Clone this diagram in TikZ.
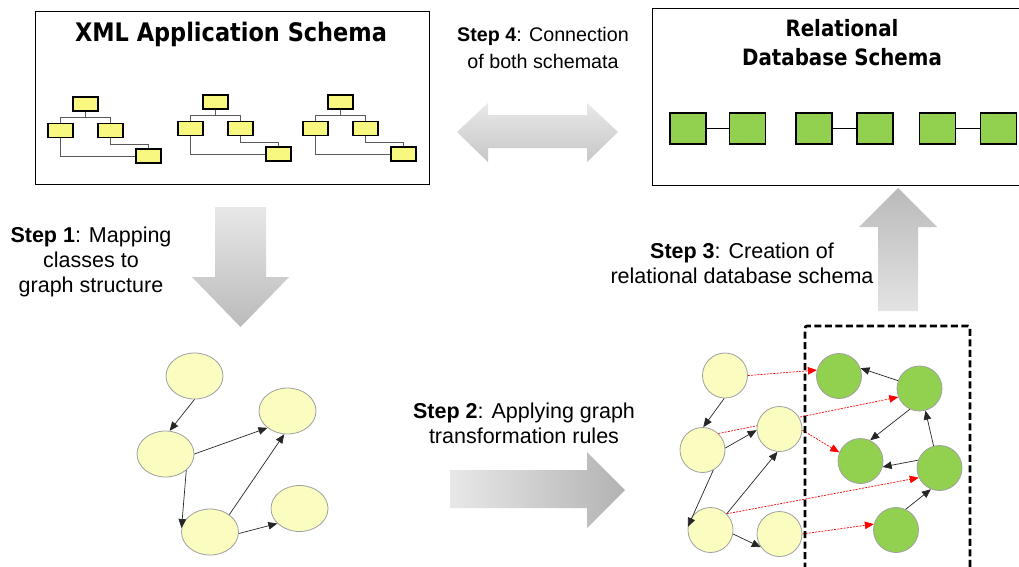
\documentclass[tikz,border=0pt]{standalone}
\usepackage{fontspec}
\setmainfont{Liberation Sans}
\newfontfamily\titlefont[FakeStretch=0.88]{DejaVu Sans}
\usetikzlibrary{shapes.geometric,arrows.meta}
\pgfdeclarelayer{bg}
\pgfdeclarelayer{back}
\pgfsetlayers{back,bg,main}
\definecolor{xmlyellow}{RGB}{248,248,128}
\definecolor{paleyellow}{RGB}{250,252,192}
\definecolor{rgreen}{RGB}{146,208,80}
\definecolor{nodeborder}{RGB}{160,160,160}
\definecolor{treeline}{RGB}{90,90,90}
\tikzset{
  ybox/.style={draw=black, line width=1.3pt, fill=xmlyellow, minimum width=25pt, minimum height=14pt, inner sep=0pt},
  gbox/.style={draw=black, line width=1.3pt, fill=rgreen, minimum width=36pt, minimum height=31pt, inner sep=0pt},
  tline/.style={draw=treeline, line width=0.8pt},
  frame/.style={draw=black, line width=0.9pt, fill=white, inner sep=0pt},
  yell/.style={ellipse, draw=nodeborder, line width=0.8pt, fill=paleyellow, minimum width=57pt, minimum height=46pt, inner sep=0pt},
  ycirc/.style={circle, draw=nodeborder, line width=0.8pt, fill=paleyellow, minimum size=45pt, inner sep=0pt},
  gcirc/.style={circle, draw=nodeborder, line width=0.8pt, fill=rgreen, minimum size=45pt, inner sep=0pt},
  garrow/.style={-{Triangle[length=9pt,width=7.5pt]}, line width=0.7pt, draw=black!85},
  redarrow/.style={-{Triangle[length=9pt,width=7.5pt]}, draw=red, line width=0.7pt, dash pattern=on 2pt off 1.2pt},
  steptext/.style={align=center, inner sep=0pt, font=\fontsize{21.5}{25}\selectfont},
  titletext/.style={align=center, inner sep=0pt},
  pics/xtree/.style={code={
    \node[ybox] (-t) at (0,0) {};
    \node[ybox] (-l) at (-25,26.5) {};
    \node[ybox] (-r) at (25,26.5) {};
    \node[ybox] (-b) at (63,52) {};
    \begin{pgfonlayer}{bg}
    \draw[tline] (-t.south) -- ++(0,6) coordinate (-j);
    \draw[tline] (-l.north) |- (-j) -| (-r.north);
    \draw[tline] (-l.south) |- (-b.west);
    \draw[tline] (-r.south) -- ++(0,6) -| (-b.north);
    \end{pgfonlayer}
  }}
}
\begin{document}
\begin{tikzpicture}[x=1pt,y=-1pt]
\useasboundingbox (0,0) rectangle (1019,566);
\begin{pgfonlayer}{back}
\fill[white] (0,0) rectangle (1019,566);
% frames
\node[frame, minimum width=394pt, minimum height=173pt] (xmlbox) at (232,97.5) {};
\node[frame, minimum width=380pt, minimum height=177pt] (rdbbox) at (842,96.5) {};
\end{pgfonlayer}

% titles
\node[titletext, font=\titlefont\bfseries\fontsize{25.5}{30}\selectfont] (xmltitle) at (231,34) {XML Application Schema};
\node[titletext, font=\titlefont\bfseries\fontsize{22.5}{29}\selectfont] (rdbtitle) at (842,43) {Relational\\Database Schema};

% XML trees
\pic (t1) at (85.5,104) {xtree};
\pic (t2) at (215.5,102) {xtree};
\pic (t3) at (340.5,102) {xtree};

% relational tables
\node[gbox] (g1a) at (688,128.5) {};
\node[gbox] (g1b) at (747.5,128.5) {};
\node[gbox] (g2a) at (814,128.5) {};
\node[gbox] (g2b) at (875,128.5) {};
\node[gbox] (g3a) at (937.5,128.5) {};
\node[gbox] (g3b) at (998.5,128.5) {};
\begin{pgfonlayer}{bg}
\draw[line width=1.3pt] (g1a.east) -- (g1b.west);
\draw[line width=1.3pt] (g2a.east) -- (g2b.west);
\draw[line width=1.3pt] (g3a.east) -- (g3b.west);
\end{pgfonlayer}

% big grey arrows
\shade[top color=black!9, bottom color=black!22] (457,132) -- (488,103) -- (488,115) -- (587,115) -- (587,103) -- (618,132) -- (587,162) -- (587,148) -- (488,148) -- (488,162) -- cycle;
\shade[top color=black!9, bottom color=black!27] (215,207) -- (266,207) -- (266,277) -- (289,277) -- (240.5,327) -- (192,277) -- (215,277) -- cycle;
\shade[top color=black!27, bottom color=black!11] (898,188) -- (937,227) -- (918,227) -- (918,311) -- (878,311) -- (878,227) -- (859,227) -- cycle;
\shade[left color=black!9, right color=black!30] (450,470) -- (587,470) -- (587,452) -- (625,490) -- (587,528) -- (587,508) -- (450,508) -- cycle;

% step texts
\node[steptext] (s1) at (91,262) {\textbf{Step 1}: Mapping\\classes to\\graph structure};
\node[steptext] (s2) at (524,423.5) {\textbf{Step 2}: Applying graph\\transformation rules};
\node[steptext] (s3) at (742,263.5) {\textbf{Step 3}: Creation of\\relational database schema};
\node[steptext, font=\fontsize{19.7}{27}\selectfont] (s4) at (543,48) {\textbf{Step 4}: Connection\\of both schemata};

% left graph
\node[yell] (e1) at (194.5,376) {};
\node[yell] (e2) at (165.5,454) {};
\node[yell] (e3) at (287.5,411) {};
\node[yell] (e4) at (210,532) {};
\node[yell] (e5) at (299.5,508.5) {};
\draw[garrow] (e1.-90) -- (e2.80);
\draw[garrow] (e2.east) -- (e3.-140);
\draw[garrow] (e2.-38) -- (e4.172);
\draw[garrow] (e4.42) -- (e3.-98);
\draw[garrow] (e4.-3) -- (e5.-146);

% right graph
\node[ycirc] (y1) at (725,375.5) {};
\node[ycirc] (y2) at (702.5,450) {};
\node[ycirc] (y3) at (779.5,429) {};
\node[ycirc] (y4) at (710.5,530) {};
\node[ycirc] (y5) at (779.5,534) {};
\node[gcirc] (c1) at (839,376) {};
\node[gcirc] (c2) at (919.5,388.5) {};
\node[gcirc] (c3) at (860.5,461) {};
\node[gcirc] (c4) at (939.5,468) {};
\node[gcirc] (c5) at (896,530) {};

\draw[garrow] (y1.-92) -- (y2.88);
\draw[garrow] (y2.5) -- (y3.183);
\draw[garrow] (y2.-62) -- (y4.172);
\draw[garrow] (y4.45) -- (y3.-95);
\draw[garrow] (y4.-10) -- (y5.-145);
\draw[garrow] (c2.160) -- (c1.20);
\draw[garrow] (c2.-115) -- (c3.65);
\draw[garrow] (c4.160) -- (c3.-15);
\draw[garrow] (c4.105) -- (c2.-75);
\draw[garrow] (c5.65) -- (c4.-112);

\begin{pgfonlayer}{bg}
\draw[redarrow] (y1.0) -- (c1.165);
\draw[redarrow] (y2.46) -- (c2.-158);
\draw[redarrow] (y3.-3) -- (c3.158);
\draw[redarrow] (y4.45) -- (c4.-155);
\draw[redarrow] (y5.0) -- (c5.165);
\end{pgfonlayer}

% dashed region
\coordinate (dbl) at (805,580);
\coordinate (dbr) at (970,580);
\draw[line width=2.6pt, dash pattern=on 7pt off 3.5pt, rounded corners=2pt] (dbl) -- (805,326) -- (970,326) -- (dbr);
\end{tikzpicture}
\end{document}
